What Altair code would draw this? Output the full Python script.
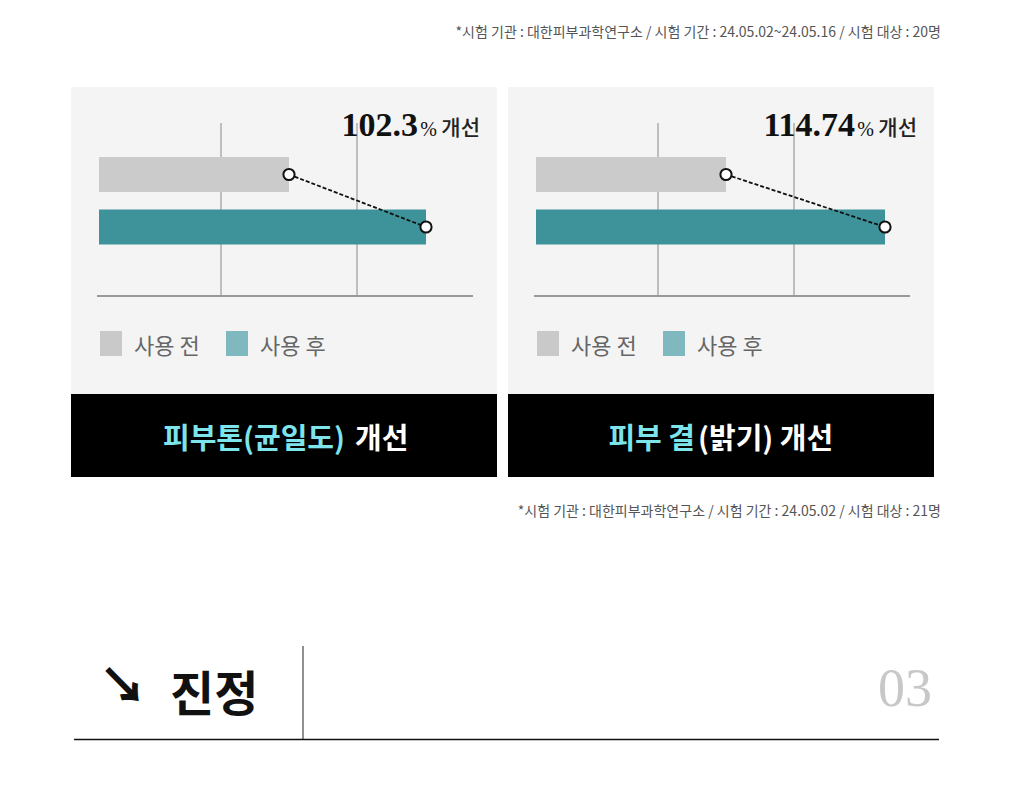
import altair as alt
import pandas as pd

# ---------------- data ----------------
series = ["사용 전", "사용 후"]
before_values = [190, 190]          # bar length (px-like units)
after_values = [327, 349]
grid_values = [122, 258]
improvement = ["102.3", "114.74"]
title_highlight = ["피부톤(균일도)", "피부 결"]
title_rest = ["개선", "(밝기) 개선"]
footnotes = [
    "*시험 기관 : 대한피부과학연구소 / 시험 기간 : 24.05.02~24.05.16 / 시험 대상 : 20명",
    "*시험 기관 : 대한피부과학연구소 / 시험 기간 : 24.05.02 / 시험 대상 : 21명",
]
section_title = "진정"
section_number = "03"

# ---------------- styles / layout ----------------
BAR_COLORS = ["#cbcbcb", "#3d9399"]
LEGEND_COLORS = ["#c9c9c9", "#80b8bf"]
PANEL_BG = "#f4f4f4"
CYAN = "#7ee4ec"
SANS = "Noto Sans CJK KR"
SERIF = "Liberation Serif"

panel_x0 = [71, 508]
title_split = [274, 187]
title_gap = [10, 3]

PX = alt.Scale(domain=[0, 1020], range=[-8, 1012])
PY = alt.Scale(domain=[0, 811], range=[-8, 803])


def enc_xy(xf="x", yf="y"):
    return dict(
        x=alt.X(f"{xf}:Q", scale=PX, axis=None),
        y=alt.Y(f"{yf}:Q", scale=PY, axis=None),
    )


layers = []

# rectangles (panel backgrounds, title boxes, legend swatches)
rects = []
for ox in panel_x0:
    rects.append(dict(x=ox, x2=ox + 426, y=87, y2=394, c=PANEL_BG))
    rects.append(dict(x=ox, x2=ox + 426, y=394, y2=477, c="#000000"))
    rects.append(dict(x=ox + 29, x2=ox + 51, y=331, y2=356, c=LEGEND_COLORS[0]))
    rects.append(dict(x=ox + 155, x2=ox + 177, y=331, y2=356, c=LEGEND_COLORS[1]))
rdf = pd.DataFrame(rects)
layers.append(
    alt.Chart(rdf).mark_rect().encode(
        **enc_xy(), x2="x2:Q", y2="y2:Q", color=alt.Color("c:N", scale=None)
    )
)

# rules (gridlines, axis baselines, section lines)
rules = []
for ox in panel_x0:
    for g in grid_values:
        gx = ox + 28 + g
        rules.append(dict(x=gx, x2=gx, y=123, y2=296, c="#888888", w=1))
    rules.append(dict(x=ox + 26, x2=ox + 402, y=296, y2=296, c="#999999", w=2))
rules.append(dict(x=303, x2=303, y=646, y2=739, c="#222222", w=1))
rules.append(dict(x=74, x2=939, y=739.5, y2=739.5, c="#111111", w=1.5))
ldf = pd.DataFrame(rules)
layers.append(
    alt.Chart(ldf).mark_rule().encode(
        **enc_xy(), x2="x2:Q", y2="y2:Q",
        color=alt.Color("c:N", scale=None),
        size=alt.Size("w:Q", scale=None),
    )
)

# bars, dashed connector, circles
for i, ox in enumerate(panel_x0):
    df = pd.DataFrame({"series": series, "value": [before_values[i], after_values[i]]})
    xs = alt.Scale(domain=[0, 400], range=[ox + 28 - 8, ox + 428 - 8])
    y_range = [157 - 8, 244.5 - 8]
    ys_band = alt.Scale(domain=series, range=y_range, paddingInner=1 / 3, paddingOuter=0)
    ys_point = alt.Scale(domain=series, range=y_range, padding=1 / 3)
    X = alt.X("value:Q", scale=xs, axis=None)
    layers.append(
        alt.Chart(df).mark_bar().encode(
            x=X, y=alt.Y("series:N", scale=ys_band, axis=None),
            color=alt.Color("series:N", scale=alt.Scale(domain=series, range=BAR_COLORS), legend=None),
        )
    )
    Yp = alt.Y("series:N", scale=ys_point, axis=None)
    layers.append(
        alt.Chart(df).mark_line(color="#111111", strokeWidth=1.8, strokeDash=[4, 2]).encode(x=X, y=Yp)
    )
    layers.append(
        alt.Chart(df).mark_point(filled=True, fill="white", stroke="#111111", strokeWidth=2,
                                 size=125, opacity=1).encode(x=X, y=Yp)
    )


def text_layer(rows, **kw):
    df = pd.DataFrame(rows, columns=["t", "x", "y"])
    return alt.Chart(df).mark_text(**kw).encode(**enc_xy(), text="t:N")


# footnotes
layers.append(text_layer([(footnotes[0], 941, 37), (footnotes[1], 941, 516)],
                         font=SANS, fontSize=14, color="#555555", align="right", baseline="alphabetic"))

# improvement numbers
layers.append(text_layer([(improvement[i], ox + 347, 136) for i, ox in enumerate(panel_x0)],
                         font=SERIF, fontSize=34, fontWeight="bold", color="#111111",
                         align="right", baseline="alphabetic"))
layers.append(text_layer([("%", ox + 366, 136) for ox in panel_x0],
                         font=SERIF, fontSize=20, color="#111111", align="right", baseline="alphabetic"))
layers.append(text_layer([("개선", ox + 409, 135) for ox in panel_x0],
                         font=SANS, fontSize=21, fontWeight=500, color="#222222",
                         align="right", baseline="alphabetic"))

# legend labels
leg_rows = []
for ox in panel_x0:
    leg_rows.append((series[0], ox + 63, 354))
    leg_rows.append((series[1], ox + 189, 354))
layers.append(text_layer(leg_rows, font=SANS, fontSize=22, color="#666666",
                         align="left", baseline="alphabetic"))

# panel titles
layers.append(text_layer([(title_highlight[i], ox + title_split[i], 449) for i, ox in enumerate(panel_x0)],
                         font=SANS, fontSize=29, fontWeight="bold", color=CYAN,
                         align="right", baseline="alphabetic"))
layers.append(text_layer([(title_rest[i], ox + title_split[i] + title_gap[i], 449)
                          for i, ox in enumerate(panel_x0)],
                         font=SANS, fontSize=29, fontWeight="bold", color="#ffffff",
                         align="left", baseline="alphabetic"))

# section header
layers.append(text_layer([("↘", 123, 703)], font=SANS, fontSize=48, fontWeight=900,
                         color="#111111", align="center", baseline="alphabetic"))
layers.append(text_layer([(section_title, 170, 711)], font=SANS, fontSize=48, fontWeight="bold",
                         color="#111111", align="left", baseline="alphabetic"))
layers.append(text_layer([(section_number, 932, 706)], font=SERIF, fontSize=54,
                         color="#c8c8c8", align="right", baseline="alphabetic"))

chart = (
    alt.layer(*layers)
    .resolve_scale(x="independent", y="independent", color="independent")
    .properties(width=1004, height=795, autosize="none", padding=0, background="white")
    .configure_view(stroke=None)
)

chart.save("out.html", embed_options={"renderer": "svg", "actions": False})
